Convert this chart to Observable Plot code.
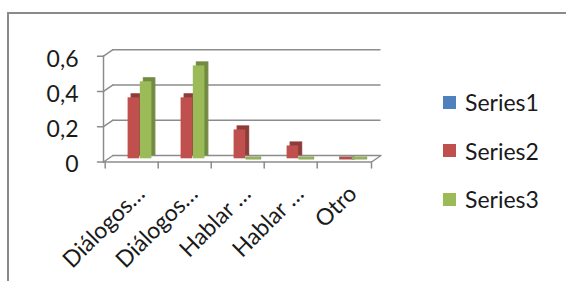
<!DOCTYPE html>
<html><head><meta charset="utf-8">
<script src="https://cdn.jsdelivr.net/npm/d3@7"></script>
<script src="https://cdn.jsdelivr.net/npm/@observablehq/plot@0.6"></script>
<style>
html,body{margin:0;padding:0;background:#fff;overflow:hidden;}
#wrap{position:relative;width:566px;height:281px;overflow:hidden;font-family:Lato,sans-serif;}
#border{position:absolute;left:7px;top:12px;width:700px;height:400px;border:2px solid #8a8a8a;box-sizing:border-box;}
#chart{position:absolute;left:0;top:0;}
.lg{position:absolute;left:443px;height:48px;display:flex;align-items:center;font-size:23px;color:#1a1a1a;}
.lg span.sw{display:inline-block;width:13px;height:13px;margin-right:9px;}
</style></head><body>
<div id="wrap"><div id="border"></div><div id="chart"></div><div id="legend"></div></div>
<script>
const categories = ["Diálogos…", "Diálogos…", "Hablar …", "Hablar …", "Otro"];
const seriesNames = ["Series1", "Series2", "Series3"];
const series1 = [null, null, null, null, null];
const series2 = [0.364, 0.364, 0.182, 0.091, 0];
const series3 = [0.455, 0.545, 0, 0, 0];
const yTicks = [0, 0.2, 0.4, 0.6];
const colors = ["#4F81BD", "#C0504D", "#9BBB59"];
const sideColors = ["#3A5F8B", "#8E3B39", "#728A42"];

const allSeries = [series1, series2, series3];
const data = allSeries.flatMap((vals, s) => vals.map((v, i) => ({i, s, value: v})));

const W = 566, H = 281;
const ml = 103, mr = W - 371, mt = 55.7, mb = H - 161.5;
const bw = (W - ml - mr) / categories.length;
const depthX = 9.5, depthY = 6.5;
const depthLen = Math.hypot(depthX, depthY);
const depthAngle = Math.atan2(depthX, depthY) * 180 / Math.PI;
const lift = 3.2, side = 3.5;
const slot0 = 10.4, slotW = 12.2;
const grid = "#8c8c8c";
const seg = {draw(ctx, l) { ctx.moveTo(0, 0); ctx.lineTo(0, -l); }};
const fmt = d => d === 0 ? "0" : d.toFixed(1).replace(".", ",");

const barMarks = seriesNames.flatMap((name, s) => {
  const rows = data.filter(d => d.s === s && d.value != null);
  const il = slot0 + slotW * s, ir = bw - slot0 - slotW * (s + 1);
  return [
    Plot.barY(rows, {filter: d => d.value > 0, x: "i", y: "value", insetLeft: il, insetRight: ir, insetBottom: lift, dx: side, dy: -side, fill: sideColors[s], stroke: sideColors[s], strokeWidth: 1}),
    Plot.barY(rows, {filter: d => d.value > 0, x: "i", y: "value", insetLeft: il, insetRight: ir, insetBottom: lift, fill: colors[s]}),
    Plot.barY(rows, {filter: d => d.value === 0, x: "i", y: "value", insetLeft: il, insetRight: ir - side, insetTop: -2.2, dy: -lift + 0.8, fill: colors[s], stroke: sideColors[s], strokeWidth: 0.5})
  ];
});

const chart = Plot.plot({
  width: W, height: H,
  marginLeft: ml, marginRight: mr, marginTop: mt, marginBottom: mb,
  style: {fontFamily: "Lato, sans-serif", color: "#1a1a1a", background: "transparent"},
  x: {type: "band", domain: categories.map((_, i) => i), padding: 0, axis: null},
  y: {domain: [0, 0.6], axis: null},
  marks: [
    Plot.ruleY(yTicks, {y: d => d, dx: depthX, dy: -depthY, stroke: grid, strokeWidth: 1.5}),
    Plot.vector(yTicks, {y: d => d, frameAnchor: "left", length: depthLen, rotate: depthAngle, anchor: "start", shape: seg, stroke: grid, strokeWidth: 1.5}),
    Plot.vector([0], {y: d => d, frameAnchor: "right", length: depthLen, rotate: depthAngle, anchor: "start", shape: seg, stroke: grid, strokeWidth: 1.5}),
    Plot.ruleY([0], {stroke: grid, strokeWidth: 1.5}),
    Plot.frame({anchor: "left", stroke: grid, strokeWidth: 1.5}),
    Plot.vector(yTicks, {y: d => d, frameAnchor: "left", length: 6, rotate: -90, anchor: "start", shape: seg, stroke: grid, strokeWidth: 1.5}),
    Plot.vector(categories.map((_, i) => i), {x: d => d, y: 0, dx: -bw / 2, length: 6, rotate: 180, anchor: "start", shape: seg, stroke: grid, strokeWidth: 1.5}),
    Plot.vector([0], {y: d => d, frameAnchor: "right", length: 6, rotate: 180, anchor: "start", shape: seg, stroke: grid, strokeWidth: 1.5}),
    ...barMarks,
    Plot.axisY(yTicks, {tickSize: 0, tickPadding: 25, tickFormat: fmt, fontSize: 23, dy: 3, label: null}),
    Plot.axisX(categories.map((_, i) => i), {tickRotate: -45, tickSize: 0, tickPadding: 28, tickFormat: i => categories[i], fontSize: 23, dx: 9, label: null})
  ]
});
document.getElementById("chart").appendChild(chart);

const legend = document.getElementById("legend");
seriesNames.forEach((name, s) => {
  const row = document.createElement("div");
  row.className = "lg";
  row.style.top = (78 + 48.5 * s) + "px";
  const sw = document.createElement("span");
  sw.className = "sw";
  sw.style.background = colors[s];
  row.appendChild(sw);
  row.appendChild(document.createTextNode(name));
  legend.appendChild(row);
});
</script>
</body></html>
